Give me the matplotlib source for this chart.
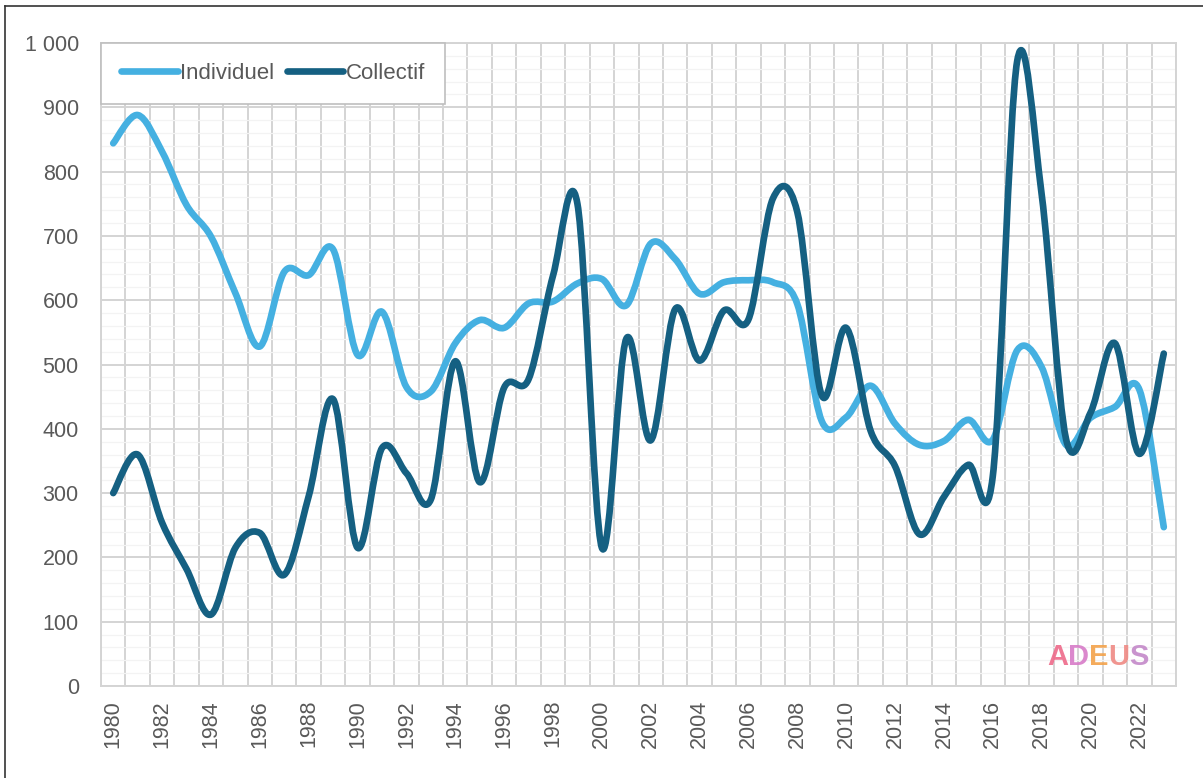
import matplotlib
matplotlib.use("Agg")
import matplotlib.pyplot as plt
from matplotlib.path import Path
from matplotlib.patches import PathPatch
from matplotlib.lines import Line2D
from matplotlib.ticker import MultipleLocator, FixedLocator, FuncFormatter

plt.rcParams['font.family'] = ['Liberation Sans', 'DejaVu Sans']

# ---- data ----
years = list(range(1980, 2024))
individuel = [844, 888, 831, 748, 699, 611, 528, 644, 639, 679,
              515, 582, 465, 458, 533, 569, 557, 595, 598, 626,
              633, 592, 688, 664, 610, 628, 631, 628, 594, 412,
              418, 467, 408, 375, 381, 414, 383, 522, 496, 375,
              417, 434, 461, 247]
collectif = [300, 360, 254, 182, 111, 215, 238, 173, 295, 446,
             215, 370, 331, 290, 505, 317, 464, 477, 638, 750,
             215, 540, 382, 586, 506, 584, 570, 758, 737, 452,
             557, 397, 342, 236, 294, 344, 326, 972, 765, 384,
             425, 533, 361, 517]
series_names = ["Individuel", "Collectif"]
year_labels = [str(y) for y in years[::2]]

LIGHT = "#45B0E1"
DARK = "#156082"
GRID = "#D4D4D4"
TXT = "#595959"

W, H = 1203, 778
AX_L, AX_R, AX_T, AX_B = 101, 1176, 43, 686


def smooth_path(xs, ys):
    """Excel-like smoothed line: cubic Bezier (Catmull-Rom handles)."""
    n = len(xs)
    verts = [(xs[0], ys[0])]
    codes = [Path.MOVETO]
    for i in range(n - 1):
        x0, y0 = xs[max(i - 1, 0)], ys[max(i - 1, 0)]
        x1, y1 = xs[i], ys[i]
        x2, y2 = xs[i + 1], ys[i + 1]
        x3, y3 = xs[min(i + 2, n - 1)], ys[min(i + 2, n - 1)]
        c1 = (x1 + (x2 - x0) / 6.0, y1 + (y2 - y0) / 6.0)
        c2 = (x2 - (x3 - x1) / 6.0, y2 - (y3 - y1) / 6.0)
        verts += [c1, c2, (x2, y2)]
        codes += [Path.CURVE4] * 3
    return Path(verts, codes)


fig = plt.figure(figsize=(W / 100, H / 100), dpi=100)
fig.patch.set_facecolor("white")

# outer frame (cropped at right/bottom)
fig.add_artist(Line2D([5 / W, 5 / W], [0, 1 - 6 / H], color="#333333", lw=1.2,
                      transform=fig.transFigure))
fig.add_artist(Line2D([5 / W, 1], [1 - 6 / H, 1 - 6 / H], color="#333333", lw=1.2,
                      transform=fig.transFigure))

ax = fig.add_axes([AX_L / W, 1 - AX_B / H, (AX_R - AX_L) / W, (AX_B - AX_T) / H])
ax.set_xlim(years[0] - 0.5, years[-1] + 0.5)
ax.set_ylim(0, 1000)

# grid
ax.yaxis.set_major_locator(MultipleLocator(100))
ax.yaxis.set_minor_locator(MultipleLocator(20))
ax.xaxis.set_minor_locator(FixedLocator([y - 0.5 for y in years] + [years[-1] + 0.5]))
ax.grid(which="major", axis="y", color=GRID, lw=1.4, zorder=0)
ax.grid(which="minor", axis="y", color="#F3F3F3", lw=0.9, zorder=0)
ax.grid(which="minor", axis="x", color=GRID, lw=1.4, zorder=0)
ax.set_axisbelow(True)
for s in ax.spines.values():
    s.set_color(GRID)
    s.set_linewidth(1.4)

ax.set_xticks(years[::2])
ax.set_xticklabels(year_labels, rotation=90)
ax.yaxis.set_major_formatter(FuncFormatter(
    lambda v, p: f"{int(v):,}".replace(",", " ")))
ax.tick_params(axis="both", which="both", length=0, labelsize=15.5, labelcolor=TXT)
ax.tick_params(axis="y", pad=16)
ax.tick_params(axis="x", pad=10)

# lines (Collectif drawn above Individuel)
for vals, col, z in [(individuel, LIGHT, 3), (collectif, DARK, 4)]:
    p = PathPatch(smooth_path(years, vals), fill=False, edgecolor=col, lw=4.8,
                  capstyle="round", joinstyle="round", zorder=z)
    ax.add_patch(p)

# legend
handles = [Line2D([], [], color=LIGHT, lw=4.8, solid_capstyle="round"),
           Line2D([], [], color=DARK, lw=4.8, solid_capstyle="round")]
leg = ax.legend(handles, series_names, loc="upper left", bbox_to_anchor=(0, 1),
                ncol=2, fontsize=16, frameon=True, fancybox=False,
                edgecolor="#BFBFBF", framealpha=1, borderaxespad=0,
                handlelength=2.55, handletextpad=0.12, columnspacing=0.55,
                borderpad=0.9, labelcolor=TXT)
leg.get_frame().set_linewidth(1.2)
leg.set_zorder(10)

# ADEUS logo
logo = [("A", "#EE6A8A"), ("D", "#D77BC8"), ("E", "#F3A24A"), ("U", "#EF8A84"), ("S", "#C489C9")]
adv = [21, 21, 19.5, 21, 19.5]
xx = 1047
for (ch, c), a in zip(logo, adv):
    fig.text(xx / W, 1 - 665 / H, ch, color=c, fontsize=21, fontweight="bold",
             ha="left", va="baseline", alpha=0.9)
    xx += a

fig.savefig("out.png", dpi=100, facecolor="white")
